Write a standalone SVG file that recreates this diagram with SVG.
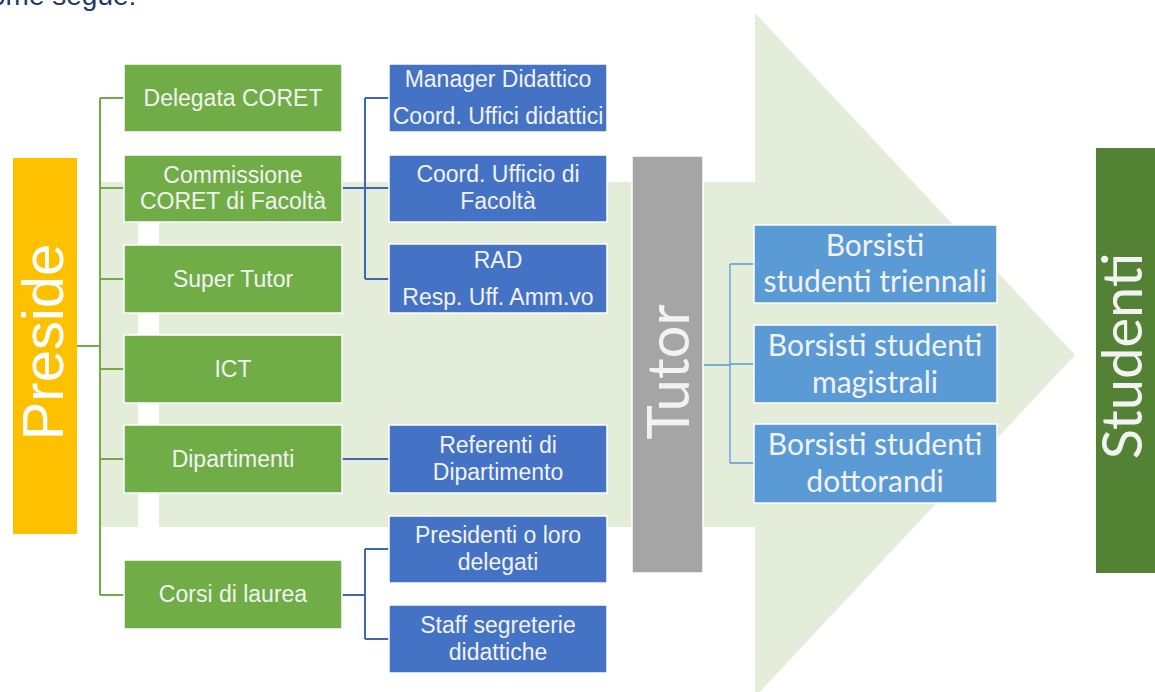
<svg xmlns="http://www.w3.org/2000/svg" width="1155" height="692" viewBox="0 0 1155 692">
<style>
.ar{font-family:"Liberation Sans",Arial,sans-serif;font-size:23px;fill:#F2F2F2;text-anchor:middle}
.ca{font-family:Lato,"Open Sans",sans-serif;fill:#F2F2F2;text-anchor:middle}
.g{fill:#70AD47;stroke:#FFFFFF;stroke-width:1.5}
.b{fill:#4472C4;stroke:#FFFFFF;stroke-width:1.5}
.lb{fill:#5B9BD5;stroke:#FFFFFF;stroke-width:1.5}
.cg{stroke:#70AD47;stroke-width:2;fill:none}
.cb{stroke:#3F66B0;stroke-width:2;fill:none}
.ct{stroke:#5B9BD5;stroke-width:1.3;fill:none}
</style>
<rect x="0" y="0" width="1155" height="692" fill="#FFFFFF"/>
<text x="-24" y="5" font-family="Liberation Sans,Arial,sans-serif" font-size="28" fill="#1F3864">come segue:</text>
<g id="backArrow">
<polygon points="101,182 755,182 755,13 1075,355 755,697 755,527 101,527" fill="#E3EDDA"/>
<rect x="138" y="182" width="21" height="345" fill="#FFFFFF"/>
</g>
<g id="connectors">
<path class="cg" d="M77,346 H100 M100,98 V595 M100,98 H124 M100,188 H124 M100,279 H124 M100,369 H124 M100,459 H124 M100,595 H124"/>
<path class="cb" d="M342,188 H389 M365,98 V279 M365,98 H389 M365,279 H389"/>
<path class="cb" d="M342,459 H389"/>
<path class="cb" d="M342,595 H365 M365,549 V639 M365,549 H389 M365,639 H389"/>
<path class="ct" d="M703,365 H730 M730,264 V463 M730,264 H754 M730,364 H754 M730,463 H754"/>
</g>
<g id="preside">
<rect x="13" y="158" width="64" height="376" fill="#FFC000"/>
<text transform="translate(63,342) rotate(-90)" x="0" y="0" font-family="Liberation Sans,Arial,sans-serif" font-size="58" fill="#FFFFFF" text-anchor="middle">Preside</text>
</g>
<g id="delegata"><rect class="g" x="124" y="64" width="218" height="68"/><text class="ar" x="233" y="106">Delegata CORET</text></g>
<g id="commissione"><rect class="g" x="124" y="155" width="218" height="67"/><text class="ar" x="233" y="183">Commissione</text><text class="ar" x="233" y="209">CORET di Facoltà</text></g>
<g id="supertutor"><rect class="g" x="124" y="245" width="218" height="68"/><text class="ar" x="233" y="287">Super Tutor</text></g>
<g id="ict"><rect class="g" x="124" y="335" width="218" height="68"/><text class="ar" x="233" y="377">ICT</text></g>
<g id="dipartimenti"><rect class="g" x="124" y="425" width="218" height="68"/><text class="ar" x="233" y="467">Dipartimenti</text></g>
<g id="corsi"><rect class="g" x="124" y="560" width="218" height="69"/><text class="ar" x="233" y="602">Corsi di laurea</text></g>
<g id="manager"><rect class="b" x="389" y="64" width="218" height="68"/><text class="ar" x="498" y="87">Manager Didattico</text><text class="ar" x="498" y="124">Coord. Uffici didattici</text></g>
<g id="coordufficio"><rect class="b" x="389" y="155" width="218" height="67"/><text class="ar" x="498" y="182">Coord. Ufficio di</text><text class="ar" x="498" y="209">Facoltà</text></g>
<g id="rad"><rect class="b" x="389" y="244" width="218" height="69"/><text class="ar" x="498" y="268">RAD</text><text class="ar" x="498" y="305">Resp. Uff. Amm.vo</text></g>
<g id="referenti"><rect class="b" x="389" y="425" width="218" height="68"/><text class="ar" x="498" y="453">Referenti di</text><text class="ar" x="498" y="480">Dipartimento</text></g>
<g id="presidenti"><rect class="b" x="389" y="516" width="218" height="67"/><text class="ar" x="498" y="543">Presidenti o loro</text><text class="ar" x="498" y="570">delegati</text></g>
<g id="staff"><rect class="b" x="389" y="605" width="218" height="68"/><text class="ar" x="498" y="633">Staff segreterie</text><text class="ar" x="498" y="660">didattiche</text></g>
<g id="tutor">
<rect x="632" y="156" width="71" height="417" fill="#A5A5A5" stroke="#FFFFFF" stroke-width="1.5"/>
<text class="ca" transform="translate(689,372) rotate(-90)" x="0" y="0" font-size="58">Tutor</text>
</g>
<g id="triennali"><rect class="lb" x="754" y="225" width="243" height="78"/><text class="ca" x="875" y="256" font-size="30">Borsisti</text><text class="ca" x="875" y="292" font-size="30">studenti triennali</text></g>
<g id="magistrali"><rect class="lb" x="754" y="325" width="243" height="78"/><text class="ca" x="875" y="356" font-size="30">Borsisti studenti</text><text class="ca" x="875" y="393" font-size="30">magistrali</text></g>
<g id="dottorandi"><rect class="lb" x="754" y="424" width="243" height="79"/><text class="ca" x="875" y="455" font-size="30">Borsisti studenti</text><text class="ca" x="875" y="492" font-size="30">dottorandi</text></g>
<g id="studenti">
<rect x="1096" y="148" width="70" height="425" fill="#548235"/>
<text class="ca" transform="translate(1142,356) rotate(-90)" x="0" y="0" font-size="56">Studenti</text>
</g>
</svg>
